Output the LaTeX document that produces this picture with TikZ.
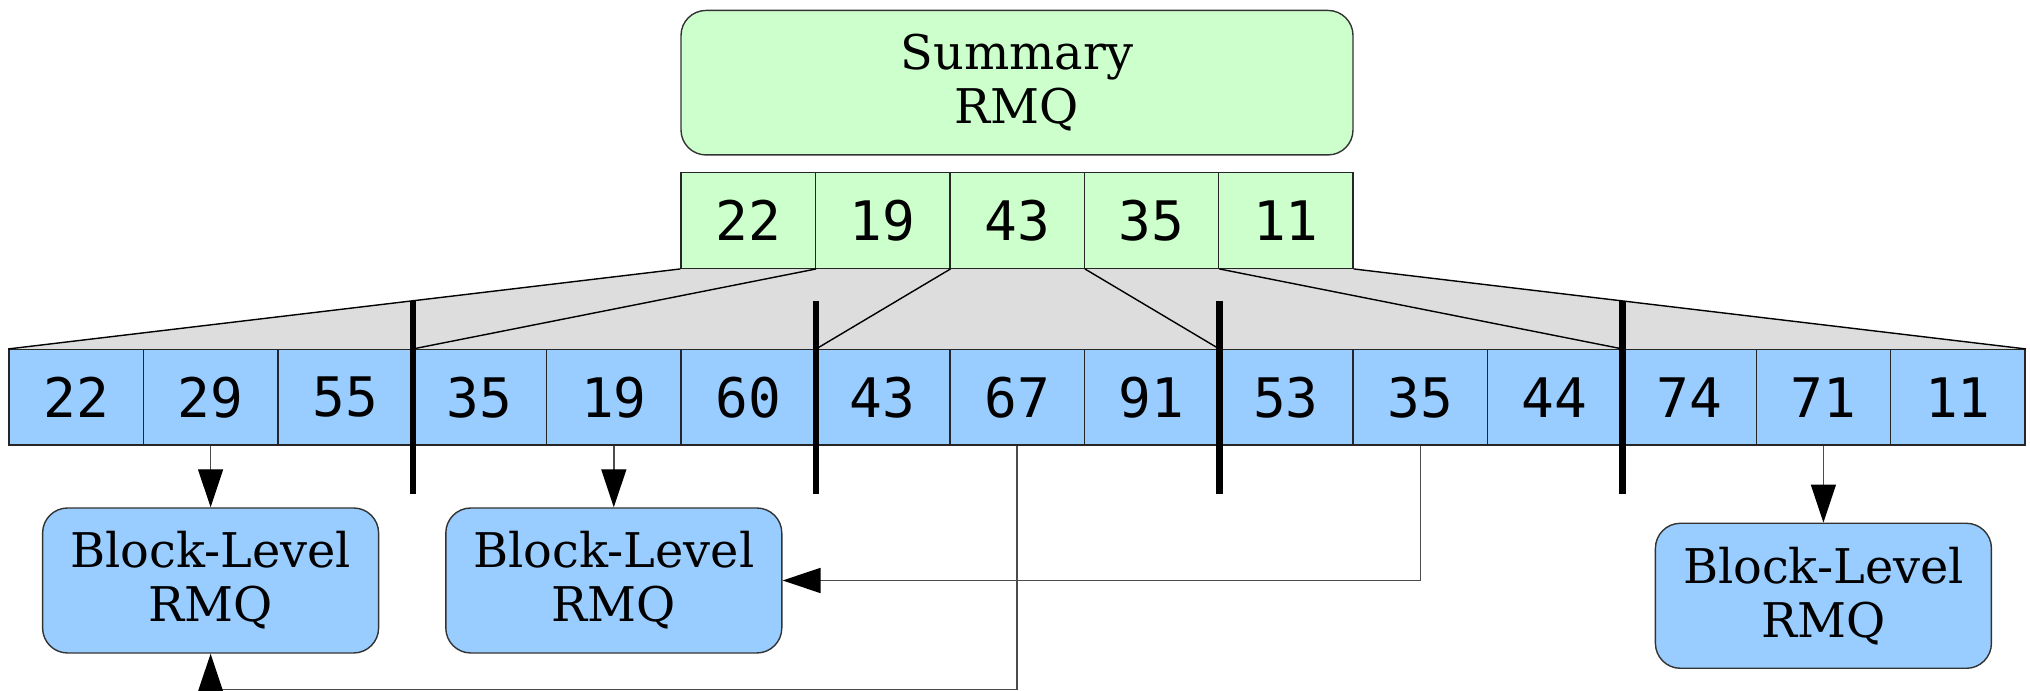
\documentclass[tikz,border=0pt]{standalone}
\usepackage{fontspec}
\setmainfont{DejaVu Serif}
\setmonofont{DejaVu Sans Mono}
\usetikzlibrary{arrows.meta,backgrounds}

\definecolor{sumgreen}{HTML}{CCFFCC}
\definecolor{blockblue}{HTML}{99CCFF}
\definecolor{fangray}{HTML}{DDDDDD}

\begin{document}
\begin{tikzpicture}[line width = 0.4pt,
                        cell/.style = {rectangle, draw = black!85, minimum width = 1.344cm, minimum height = 0.955cm,
                                       inner sep = 0pt, font = \ttfamily\fontsize{15.5}{18}\selectfont},
                        top/.style = {cell, fill = sumgreen},
                        low/.style = {cell, fill = blockblue},
                        rmq/.style = {rectangle, rounded corners = 0.25cm, draw = black!80, minimum width = 3.36cm,
                                      minimum height = 1.45cm, align = center, font = \fontsize{13.6}{15.4}\selectfont},
                        cut/.style = {line width = 1.9pt, black},
                        link/.style = {draw = black!70, -{Triangle[length = 3.8mm, width = 2.5mm, black]}}]
      \useasboundingbox (0, 0) rectangle (20.30, -6.91);
      % summary structure
      \node [rmq, fill = sumgreen, minimum width = 6.72cm, minimum height = 1.445cm] (sum) at (10.17, -0.827){Summary\\RMQ};
      \node [top] (s1) at (7.482, -2.205){22};
      \node [top] (s2) at (8.826, -2.205){19};
      \node [top] (s3) at (10.170, -2.205){43};
      \node [top] (s4) at (11.514, -2.205){35};
      \node [top] (s5) at (12.858, -2.205){11};
      % the array
      \node [low] (b1) at (0.762, -3.974){22};
      \node [low] (b2) at (2.106, -3.974){29};
      \node [low] (b3) at (3.450, -3.974){55};
      \node [low] (b4) at (4.794, -3.974){35};
      \node [low] (b5) at (6.138, -3.974){19};
      \node [low] (b6) at (7.482, -3.974){60};
      \node [low] (b7) at (8.826, -3.974){43};
      \node [low] (b8) at (10.170, -3.974){67};
      \node [low] (b9) at (11.514, -3.974){91};
      \node [low] (b10) at (12.858, -3.974){53};
      \node [low] (b11) at (14.202, -3.974){35};
      \node [low] (b12) at (15.546, -3.974){44};
      \node [low] (b13) at (16.890, -3.974){74};
      \node [low] (b14) at (18.234, -3.974){71};
      \node [low] (b15) at (19.578, -3.974){11};
      % block-level structures
      \node [rmq, fill = blockblue] (r1) at (2.106, -5.805){Block-Level\\RMQ};
      \node [rmq, fill = blockblue] (r2) at (6.138, -5.805){Block-Level\\RMQ};
      \node [rmq, fill = blockblue] (r3) at (18.234, -5.958){Block-Level\\RMQ};
      \coordinate (dip) at (10.170, -6.895);
      \begin{scope}[on background layer]
        \fill [fangray] (s1.south west) -- (s5.south east) -- (b15.north east) -- (b1.north west) -- cycle;
      \end{scope}
      \draw (s1.south west) -- (b1.north west);
      \draw (s1.south east) -- (b3.north east);
      \draw (s2.south east) -- (b6.north east);
      \draw (s3.south east) -- (b9.north east);
      \draw (s4.south east) -- (b12.north east);
      \draw (s5.south east) -- (b15.north east);
      \draw [cut] ([yshift = 4.8mm]b3.north east) -- ([yshift = -4.8mm]b3.south east);
      \draw [cut] ([yshift = 4.8mm]b6.north east) -- ([yshift = -4.8mm]b6.south east);
      \draw [cut] ([yshift = 4.8mm]b9.north east) -- ([yshift = -4.8mm]b9.south east);
      \draw [cut] ([yshift = 4.8mm]b12.north east) -- ([yshift = -4.8mm]b12.south east);
      \draw [link] (b2.south) -- (r1.north);
      \draw [link] (b5.south) -- (r2.north);
      \draw [link] (b14.south) -- (r3.north);
      \draw [link] (b11.south) |- (r2.east);
      \draw [link] (b8.south) -- (dip) -| (r1.south);
    \end{tikzpicture}
\end{document}
